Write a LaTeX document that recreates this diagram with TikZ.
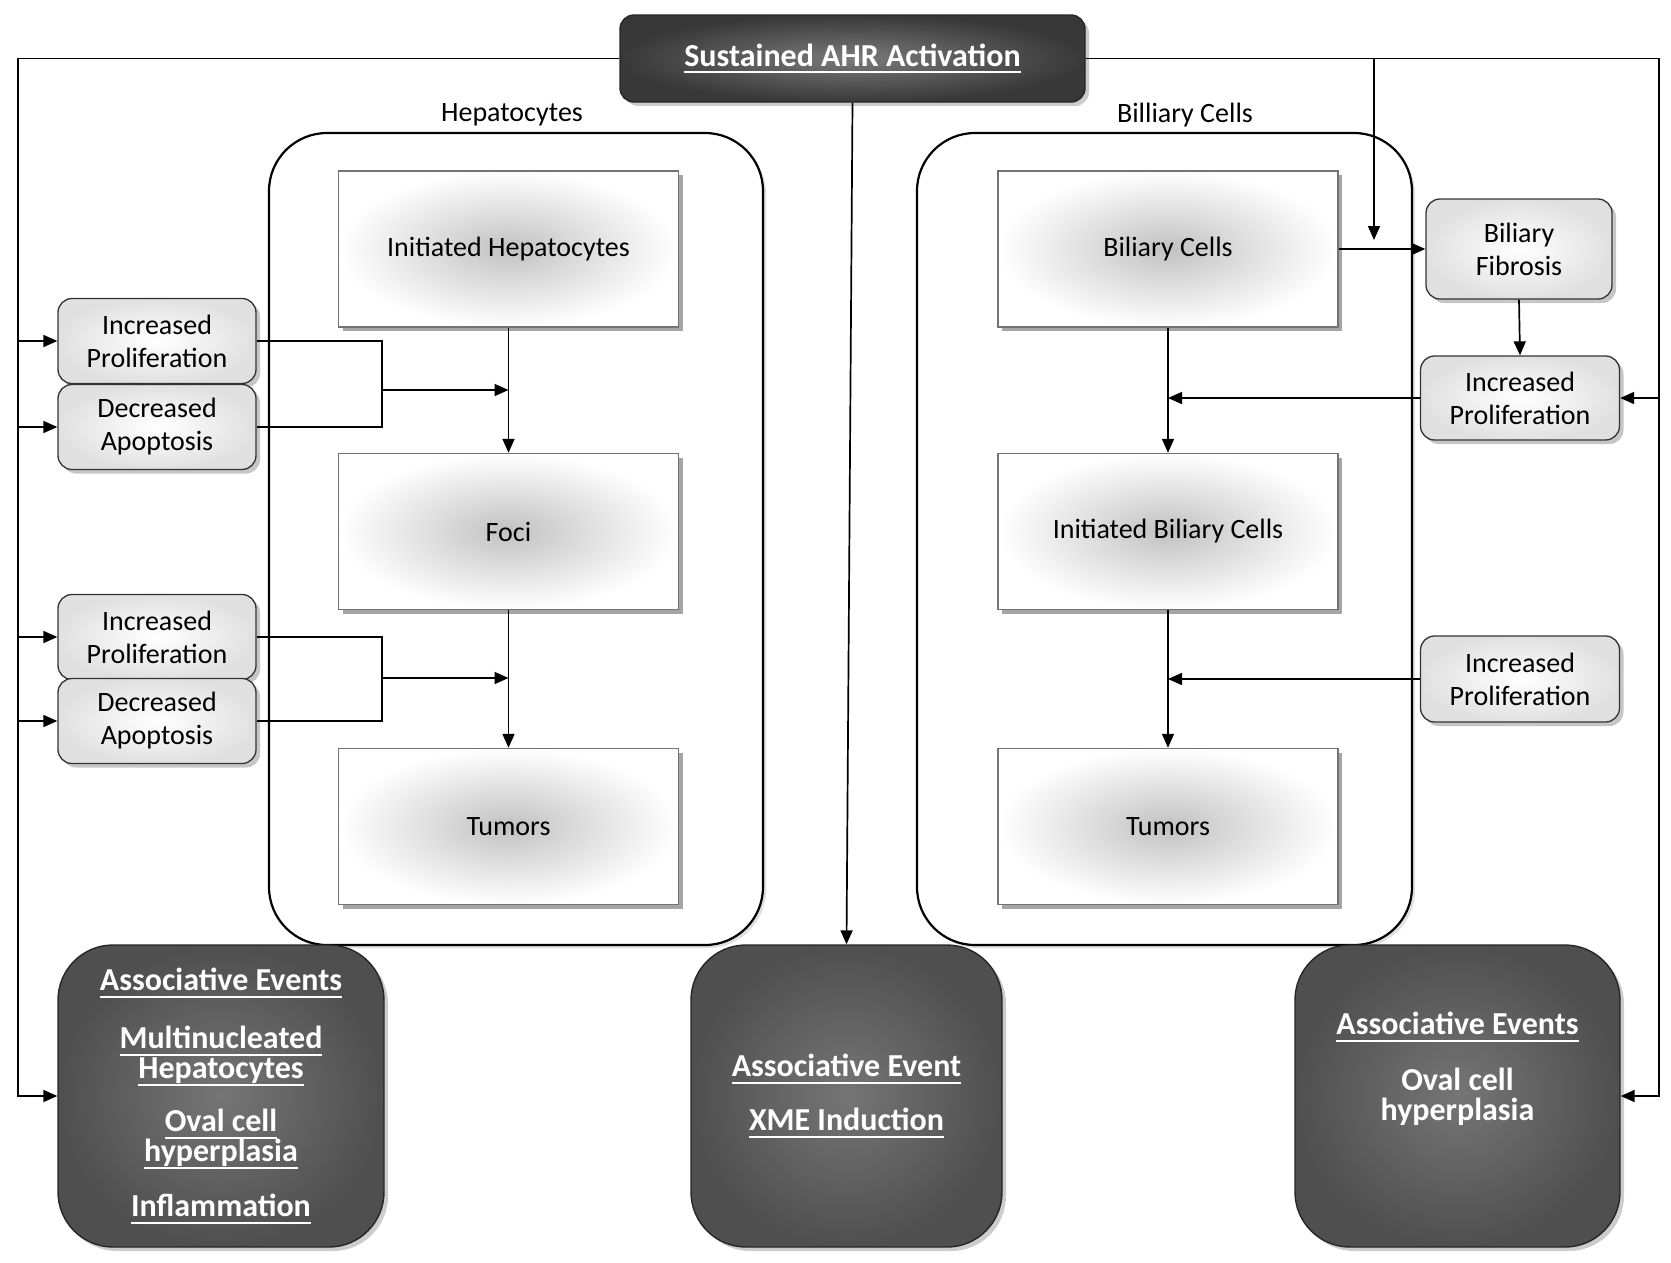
\documentclass[tikz,border=0pt]{standalone}
\usepackage{fontspec}
\setmainfont{Carlito}
\usetikzlibrary{shadows,arrows.meta}
\newsavebox\myulbox
\newcommand\myul[1]{\sbox\myulbox{#1}\rlap{\rule[-7pt]{\wd\myulbox}{2.2pt}}\usebox\myulbox}
\begin{document}
\lineskiplimit=-100pt
\begin{tikzpicture}[x=1pt,y=-1pt,
  conn/.style={line width=1.7pt, draw=black},
  arr/.style={conn, -{Triangle[length=14pt,width=12pt]}},
  mytxt/.style={font=\fontsize{28}{33}\selectfont, align=center},
  contbox/.style={draw=black, line width=2.2pt, fill=white, rounded corners=58pt,
    drop shadow={shadow xshift=3pt, shadow yshift=-3pt, opacity=.25}},
  colbox/.style={mytxt, rectangle, draw=black!55, line width=1.4pt, inner color=black!24, outer color=white,
    minimum width=340pt, minimum height=156pt,
    drop shadow={shadow xshift=4pt, shadow yshift=-4pt, opacity=.7}},
  smallbox/.style={mytxt, rectangle, rounded corners=14pt, draw=black!80, line width=1.3pt,
    inner color=white, outer color=black!12, minimum width=198pt, minimum height=85pt,
    drop shadow={shadow xshift=4pt, shadow yshift=-4pt, opacity=.45}},
  darkbox/.style={rectangle, rounded corners=55pt, draw=black!85, line width=1.4pt,
    inner color=black!54, outer color=black!69, minimum height=302pt,
    text=white, align=center,
    font=\fontsize{32}{30}\selectfont\bfseries,
    drop shadow={shadow xshift=4pt, shadow yshift=-4pt, opacity=.4}},
  darktext/.style={text=white, align=center,
    font=\fontsize{32}{30}\selectfont\bfseries},
  topbox/.style={rectangle, rounded corners=14pt, draw=black!85, line width=1.4pt,
    inner color=black!52, outer color=black!78, minimum width=465pt, minimum height=87pt,
    text=white, font=\fontsize{32}{36}\selectfont\bfseries,
    drop shadow={shadow xshift=4pt, shadow yshift=-4pt, opacity=.4}},
  lbl/.style={font=\fontsize{28}{33}\selectfont}
]
\useasboundingbox (0,0) rectangle (1671,1262);

% containers
\node[contbox, minimum width=494pt, minimum height=812pt] (hepC) at (516,539) {};
\node[contbox, minimum width=495pt, minimum height=812pt] (bilC) at (1164.5,539) {};
\node[lbl] (hepL) at (512,115) {Hepatocytes};
\node[lbl] (bilL) at (1185,115) {Billiary Cells};

% top
\node[topbox] (top) at (852.5,58.5) {\myul{Sustained AHR Activation}};

% column boxes
\node[colbox] (ih) at (508.5,249) {Initiated Hepatocytes};
\node[colbox] (foci) at (508.5,531.5) {Foci};
\node[colbox] (tum) at (508.5,826.5) {Tumors};
\node[colbox] (bc) at (1168,249) {Biliary Cells};
\node[colbox] (ibc) at (1168,531.5) {Initiated Biliary Cells};
\node[colbox] (btum) at (1168,826.5) {Tumors};

% small boxes left
\node[smallbox] (lip1) at (157,341) {Increased\\Proliferation};
\node[smallbox] (lda1) at (157,427) {Decreased\\Apoptosis};
\node[smallbox] (lip2) at (157,637) {Increased\\Proliferation};
\node[smallbox] (lda2) at (157,721) {Decreased\\Apoptosis};

% small boxes right
\node[smallbox, minimum width=186pt, minimum height=100pt] (bf) at (1519,249) {Biliary\\Fibrosis};
\node[smallbox, minimum width=199pt, minimum height=84pt] (rip1) at (1520,398) {Increased\\Proliferation};
\node[smallbox, minimum width=199pt, minimum height=86pt] (rip2) at (1520,679) {Increased\\Proliferation};

% dark boxes
\node[darkbox, minimum width=326pt] (ldark) at (221,1096)
  {\myul{Associative Events}\\[28pt]\myul{Multinucleated}\\\myul{Hepatocytes}\\[23pt]\myul{Oval cell}\\\myul{hyperplasia}\\[25pt]\myul{Inflammation}};
\node[darkbox, minimum width=311pt] (cdark) at (846.5,1096)
  {\myul{Associative Event}\\[24pt]\myul{XME Induction}};
\node[darkbox, minimum width=325pt] (rdark) at (1457.5,1096) {};
\node[darktext] (rtext) at ([yshift=27pt]rdark.center)
  {\myul{Associative Events}\\[26pt]Oval cell\\hyperplasia};

% coordinates
\coordinate (TL) at (18,58.5);
\coordinate (TR) at (1659,58.5);
\coordinate (BR) at (1374,58.5);
\coordinate (BRe) at (1374,240);
\coordinate (J1) at (382,390);
\coordinate (J2) at (382,678);

% outer connectors
\draw[arr] (top.west) -- (TL) |- (ldark.west);
\draw[arr] (TL |- lip1.west) -- (lip1.west);
\draw[arr] (TL |- lda1.west) -- (lda1.west);
\draw[arr] (TL |- lip2.west) -- (lip2.west);
\draw[arr] (TL |- lda2.west) -- (lda2.west);
\draw[arr] (top.east) -- (TR) |- (rdark.east);
\draw[arr] (TR |- rip1.east) -- (rip1.east);
\draw[arr] (BR) -- (BRe);
\draw[arr] (top.south) -- (cdark.north);

% hepatocyte column
\draw[arr] (ih.south) -- (foci.north);
\draw[arr] (foci.south) -- (tum.north);
\draw[conn] (lip1.east) -| (J1) |- (lda1.east);
\draw[arr] (J1) -- (J1 -| ih.south);
\draw[conn] (lip2.east) -| (J2) |- (lda2.east);
\draw[arr] (J2) -- (J2 -| foci.south);

% biliary column
\draw[arr] (bc.south) -- (ibc.north);
\draw[arr] (ibc.south) -- (btum.north);
\draw[arr] (bc.east) -- (bf.west);
\draw[arr] (bf.south) -- (rip1.north);
\draw[arr] (rip1.west) -- (rip1.west -| bc.south);
\draw[arr] (rip2.west) -- (rip2.west -| bc.south);
\end{tikzpicture}
\end{document}
